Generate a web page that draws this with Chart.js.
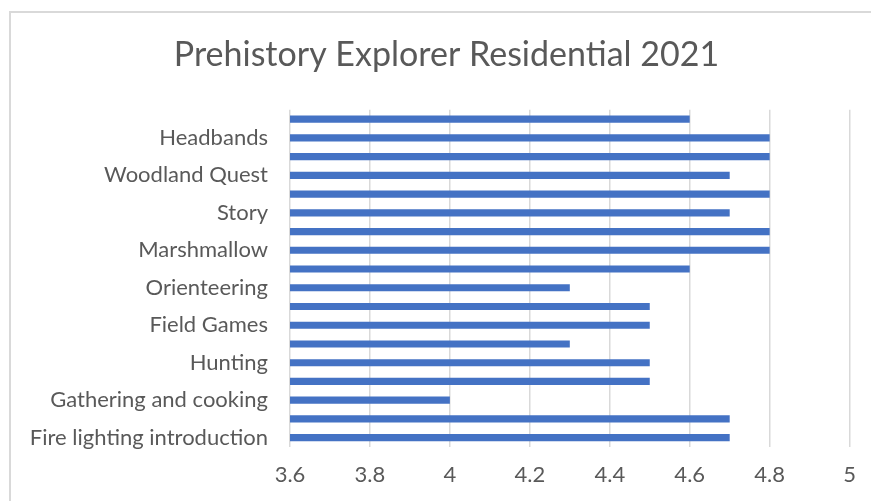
<!DOCTYPE html>
<html>
<head>
<meta charset="utf-8">
<script src="https://cdn.jsdelivr.net/npm/chart.js@4/dist/chart.umd.min.js"></script>
<style>
    html, body { margin: 0; padding: 0; background: #fff; overflow: hidden; }
    #wrap { position: relative; width: 871px; height: 501px; }
    #frame {
        position: absolute; left: 9px; top: 11px; width: 900px; height: 600px;
        border-left: 2px solid #d9d9d9; border-top: 2px solid #d9d9d9;
    }
    #chart { position: absolute; left: 0; top: 0; }
</style>
</head>
<body>
<div id="wrap">
    <div id="frame"></div>
    <canvas id="chart" width="871" height="501"></canvas>
</div>
<script>
// Categories listed top to bottom; only every other one carries a visible label
const activities = [
    '', 'Headbands', '', 'Woodland Quest', '', 'Story', '', 'Marshmallow', '',
    'Orienteering', '', 'Field Games', '', 'Hunting', '', 'Gathering and cooking',
    '', 'Fire lighting introduction'
];
const scores = [
    4.6, 4.8, 4.8, 4.7, 4.8, 4.7, 4.8, 4.8, 4.6,
    4.3, 4.5, 4.5, 4.3, 4.5, 4.5, 4.0, 4.7, 4.7
];
const xTicks = [3.6, 3.8, 4, 4.2, 4.4, 4.6, 4.8, 5];

const fontFamily = 'Lato, "Open Sans", sans-serif';
const textColor = '#595959';

// Excel centres the title on the whole chart box, not just the plot width
const shiftTitle = {
    id: 'shiftTitle',
    afterLayout: (chart) => {
        if (chart.titleBlock) {
            chart.titleBlock.left += 20;
            chart.titleBlock.right += 20;
        }
    }
};

new Chart(document.getElementById('chart'), {
    type: 'bar',
    data: {
        labels: activities,
        datasets: [{
            data: scores,
            backgroundColor: '#4472C4',
            borderWidth: 0,
            barPercentage: 0.38,
            categoryPercentage: 1
        }]
    },
    options: {
        indexAxis: 'y',
        responsive: false,
        animation: false,
        layout: {
            padding: { left: 0, right: 18, top: 0, bottom: 0 }
        },
        scales: {
            x: {
                min: xTicks[0],
                max: xTicks[xTicks.length - 1],
                afterBuildTicks: (scale) => {
                    scale.ticks = xTicks.map(v => ({ value: v }));
                },
                afterFit: (scale) => { scale.height = 54; },
                grid: {
                    color: '#d9d9d9',
                    lineWidth: 1.5,
                    drawTicks: false
                },
                border: { display: false },
                ticks: {
                    padding: 15,
                    color: textColor,
                    font: { family: fontFamily, size: 22 },
                    callback: (value) => String(Math.round(value * 10) / 10)
                }
            },
            y: {
                afterFit: (scale) => { scale.width = 290; },
                grid: { display: false, drawTicks: false },
                border: { display: false },
                ticks: {
                    autoSkip: false,
                    padding: 22,
                    color: textColor,
                    font: { family: fontFamily, size: 22 }
                }
            }
        },
        plugins: {
            legend: { display: false },
            tooltip: { enabled: false },
            title: {
                display: true,
                text: 'Prehistory Explorer Residential 2021',
                color: textColor,
                font: { family: fontFamily, size: 34, weight: 'normal' },
                padding: { top: 35, bottom: 34 }
            }
        }
    },
    plugins: [shiftTitle]
});
</script>
</body>
</html>
